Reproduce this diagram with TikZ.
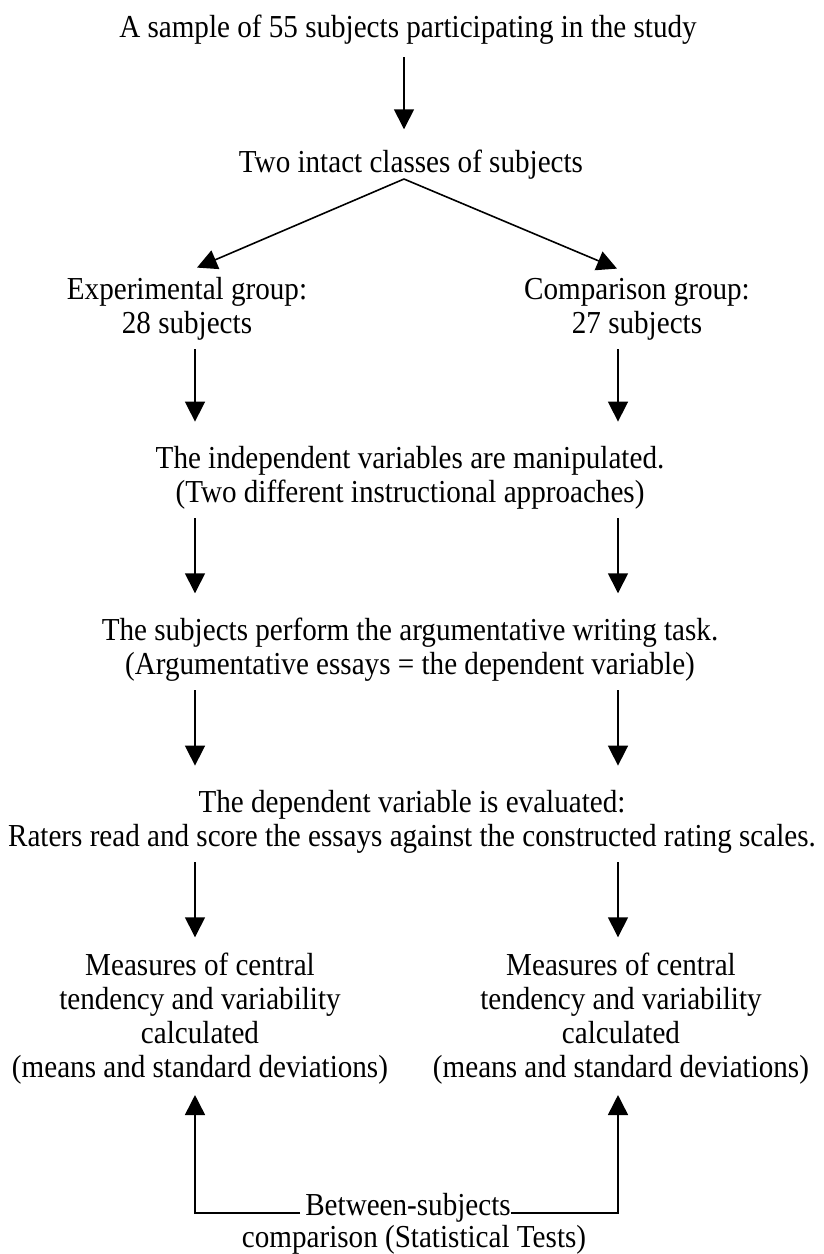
\documentclass[tikz,border=0pt]{standalone}
\usepackage{fontspec}
\setmainfont[FakeStretch=0.91]{Liberation Serif}
\usetikzlibrary{arrows.meta,calc}

\begin{document}
\begin{tikzpicture}[
		x=1pt,y=-1pt,
		txt/.style={align=center,inner sep=0pt,anchor=base,font=\fontsize{32}{34}\selectfont},
		arr/.style={-{Triangle[length=20pt,width=20pt]},line width=1.6pt,shorten <=9pt,shorten >=24pt}
		]
		\useasboundingbox (0,0) rectangle (823,1254);
		\coordinate (cL) at (195,0);
		\coordinate (cM) at (404,0);
		\coordinate (cR) at (618,0);
		% multi-line nodes sit on the baseline of their last line
		\node[txt] (title) at (408,37) {A sample of 55 subjects participating in the study};
		\node[txt] (two) at (411,172) {Two intact classes of subjects};
		\node[txt] (grpL) at (187,333) {Experimental group:\\28 subjects};
		\node[txt] (grpR) at (637,333) {Comparison group:\\27 subjects};
		\node[txt] (indep) at (410,502) {The independent variables are manipulated.\\(Two different instructional approaches)};
		\node[txt] (subj) at (410,674) {The subjects perform the argumentative writing task.\\(Argumentative essays = the dependent variable)};
		\node[txt] (dep) at (412,846) {The dependent variable is evaluated:\\Raters read and score the essays against the constructed rating scales.};
		\node[txt] (measL) at (200,1077) {Measures of central\\tendency and variability\\calculated\\(means and standard deviations)};
		\node[txt] (measR) at (621,1077) {Measures of central\\tendency and variability\\calculated\\(means and standard deviations)};
		\node[txt] (betw) at (408,1215) {Between-subjects};
		\node[txt] (cmp) at (414,1247) {comparison (Statistical Tests)};
		\path [arr]
		(title.south -| cM) edge[shorten <=13pt,shorten >=20pt] (two.north -| cM)
		(two.south -| cM) edge[shorten <=0pt,shorten >=0pt] ($(grpL.north -| cL)+(2,-9)$)
		(two.south -| cM) edge[shorten <=0pt,shorten >=0pt] ($(grpR.north -| cR)+(-1,-9)$)
		(grpL.south -| cL) edge (indep.north -| cL)
		(grpR.south -| cR) edge (indep.north -| cR)
		(indep.south -| cL) edge (subj.north -| cL)
		(indep.south -| cR) edge (subj.north -| cR)
		(subj.south -| cL) edge (dep.north -| cL)
		(subj.south -| cR) edge (dep.north -| cR)
		(dep.south -| cL) edge[shorten >=15pt] (measL.north -| cL)
		(dep.south -| cR) edge[shorten >=15pt] (measR.north -| cR);
		% comparison feeds back to both groups
		\draw[arr,shorten <=5pt,shorten >=11pt] (betw.mid west) -| (cL |- measL.south);
		\draw[arr,shorten <=0pt,shorten >=11pt] (betw.mid east) -| (cR |- measR.south);
	\end{tikzpicture}
\end{document}
